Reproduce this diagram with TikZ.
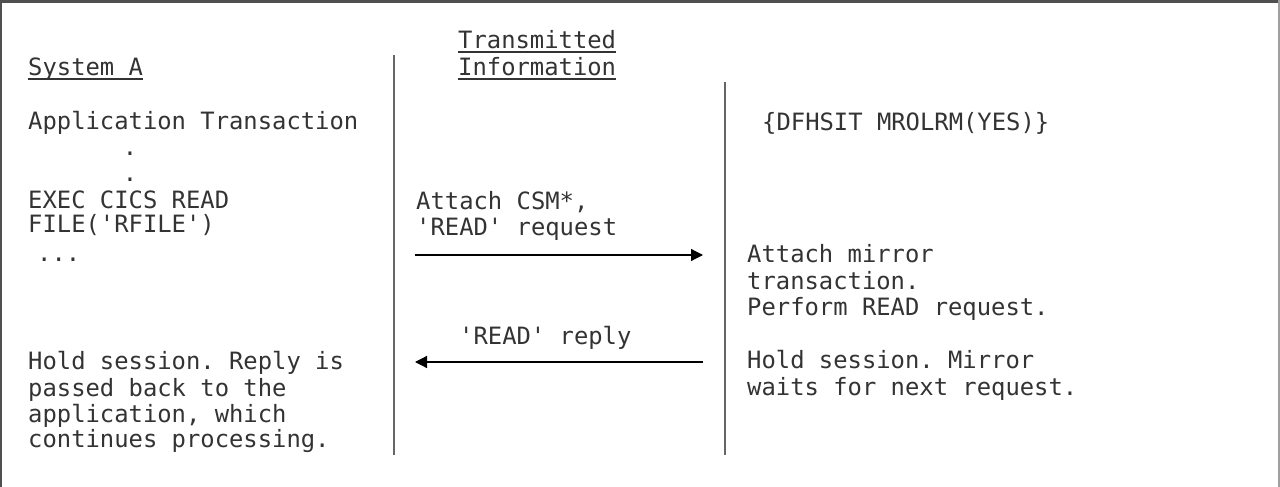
\documentclass[tikz,border=0pt]{standalone}
\usepackage{fontspec}
\setmonofont{DejaVu Sans Mono}
\usetikzlibrary{arrows.meta}
\definecolor{txt}{HTML}{333333}
\definecolor{divgray}{HTML}{666666}
\definecolor{framedark}{HTML}{505050}
\definecolor{framelight}{HTML}{A0A0A0}
\begin{document}
\begin{tikzpicture}[x=1pt,y=-1pt,
  lbl/.style={anchor=base west, inner sep=0pt, font=\ttfamily\fontsize{23.84}{26}\selectfont, text=txt},
  dotlbl/.style={lbl, anchor=base},
  divider/.style={draw=divgray, line width=1.5pt},
  msg/.style={draw=black, line width=1.2pt, -{Triangle[length=12pt,width=12pt]}},
  uline/.style={draw=txt, line width=1.5pt}]
\useasboundingbox (0,0) rectangle (1280,487);
% frame
\draw[draw=framedark, line width=3pt] (0,1.5) -- (1280,1.5);
\draw[draw=framedark, line width=2pt] (1,0) -- (1,487);
\draw[draw=framelight, line width=2pt] (1279,0) -- (1279,487);
% dividers
\coordinate (dl1) at (394,55);
\coordinate (dl2) at (394,455);
\coordinate (dr1) at (725,82);
\coordinate (dr2) at (725,455);
\draw[divider] (dl1) -- (dl2);
\draw[divider] (dr1) -- (dr2);
% headings
\node[lbl] (sysA) at (28,76) {System A};
\node[lbl] (trans) at (458,49) {Transmitted};
\node[lbl] (info) at (458,76) {Information};
\draw[uline] ([yshift=-3pt]sysA.base west) -- ([yshift=-3pt]sysA.base east);
\draw[uline] ([yshift=-3pt]trans.base west) -- ([yshift=-3pt]trans.base east);
\draw[uline] ([yshift=-3pt]info.base west) -- ([yshift=-3pt]info.base east);
% left column
\node[lbl] (app) at (28,129) {Application Transaction};
\node[dotlbl] (dotA) at (130,155) {.};
\node[dotlbl] (dotB) at (130,181) {.};
\node[lbl] (exec) at (28,208) {EXEC CICS READ};
\node[lbl] (file) at (28,232) {FILE('RFILE')};
\node[lbl] (ell) at (37,261) {...};
\node[lbl] (hold) at (28,369) {Hold session. Reply is};
\node[lbl] (passed) at (28,396) {passed back to the};
\node[lbl] (appl) at (28,422) {application, which};
\node[lbl] (cont) at (28,447) {continues processing.};
% middle column
\node[lbl] (att) at (416,209) {Attach CSM*,};
\node[lbl] (req) at (416,235) {'READ' request};
\node[lbl] (reply) at (459,344) {'READ' reply};
\coordinate (reqS) at (415,255);
\coordinate (reqE) at (703,255);
\coordinate (repS) at (703,362);
\coordinate (repE) at (415,362);
\draw[msg] (reqS) -- (reqE);
\draw[msg] (repS) -- (repE);
% right column
\node[lbl] (dfh) at (762,130) {\{DFHSIT MROLRM(YES)\}};
\node[lbl] (am) at (747,262) {Attach mirror};
\node[lbl] (tr) at (747,289) {transaction.};
\node[lbl] (pf) at (747,315) {Perform READ request.};
\node[lbl] (hs) at (747,368) {Hold session. Mirror};
\node[lbl] (wn) at (747,395) {waits for next request.};
\end{tikzpicture}
\end{document}
